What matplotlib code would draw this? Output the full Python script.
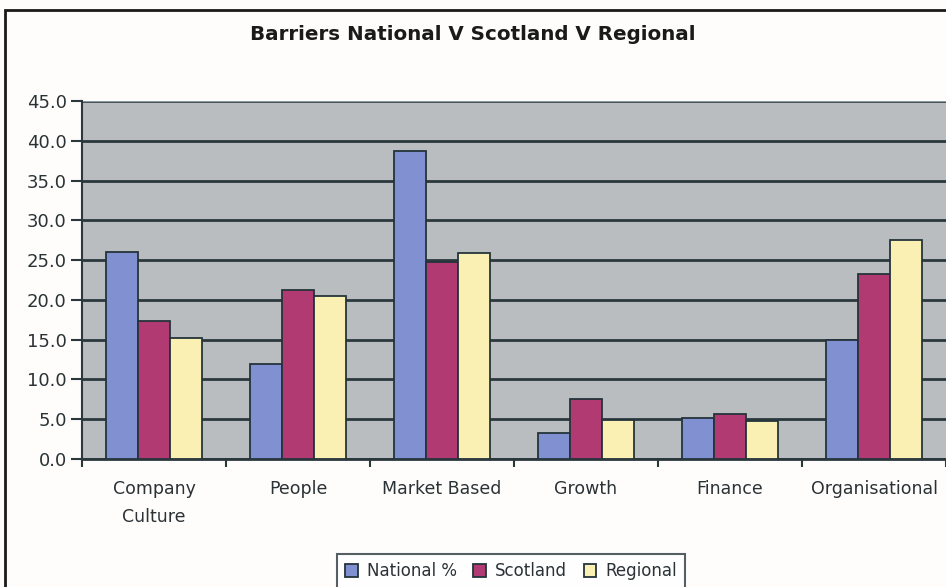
import matplotlib
matplotlib.use("Agg")
import matplotlib.pyplot as plt
from matplotlib.patches import Rectangle
import numpy as np

categories = ["Company\nCulture", "People", "Market Based", "Growth", "Finance", "Organisational"]
national = [26.0, 11.9, 38.7, 3.3, 5.2, 14.9]
scotland = [17.4, 21.3, 24.8, 7.5, 5.6, 23.3]
regional = [15.2, 20.5, 25.9, 4.9, 4.8, 27.5]
series_names = ["National %", "Scotland", "Regional"]
yticks = [0, 5, 10, 15, 20, 25, 30, 35, 40, 45]

colors = ["#8090d0", "#b23a72", "#fbf0b4"]
edge = "#24343a"
txt = "#2a3236"

plt.rcParams["font.family"] = ["DejaVu Sans"]

fig = plt.figure(figsize=(9.46, 5.87), dpi=100)
fig.patch.set_facecolor("#fffdfb")
ax = fig.add_axes([82/946, (587-459)/587, 864/946, 358/587])
ax.set_facecolor("#b9bdbf")

x = np.arange(len(categories))
w = 0.224
for i, (vals, c, name) in enumerate(zip([national, scotland, regional], colors, series_names)):
    ax.bar(x + (i - 1) * w, vals, width=w, color=c, edgecolor=edge, linewidth=1.3, label=name, zorder=3)

ax.set_xlim(-0.5, len(categories) - 0.5)
ax.set_ylim(0, 45)
ax.set_yticks(yticks)
ax.set_yticklabels([f"{v:.1f}" for v in yticks], fontsize=13, color=txt)
ax.yaxis.grid(True, color="#2a383d", linewidth=2)
ax.set_axisbelow(True)
ax.tick_params(axis="y", length=8, width=1.5, color="#2a383d", pad=3)

ax.set_xticks(x)
ax.set_xticklabels(categories, fontsize=12.5, color=txt, linespacing=1.7)
ax.tick_params(axis="x", length=0, pad=15)
ax.set_xticks(np.arange(-0.5, len(categories) + 0.5, 1), minor=True)
ax.tick_params(axis="x", which="minor", length=6, width=1.5, color="#2a383d")

for s in ["top", "right"]:
    ax.spines[s].set_visible(False)
ax.spines["left"].set_color("#2a383d")
ax.spines["left"].set_linewidth(1.5)
ax.spines["bottom"].set_color("#2a383d")
ax.spines["bottom"].set_linewidth(2)
ax.axhline(45, color="#8a9aa0", linewidth=1, zorder=1)

fig.text(473/946, 1 - 35/587, "Barriers National V Scotland V Regional", ha="center", va="center",
         fontsize=14.3, fontweight="bold", color="#1a1a1a")

leg = fig.legend(loc="upper center", bbox_to_anchor=(511/946, 1 - 554/587), ncol=3,
                 prop={"size": 12}, labelcolor=txt, borderaxespad=0,
                 frameon=True, fancybox=False, edgecolor="#2a383d", handlelength=0.75, handleheight=0.75,
                 handletextpad=0.55, columnspacing=1.0, borderpad=0.5)
leg.get_frame().set_linewidth(1.5)

fig.add_artist(Rectangle((5/946, -0.2), 1.5, 1 - 10/587 + 0.2, transform=fig.transFigure,
                         fill=False, edgecolor="#1a1a1a", linewidth=2))

fig.savefig("out.png", dpi=100)
